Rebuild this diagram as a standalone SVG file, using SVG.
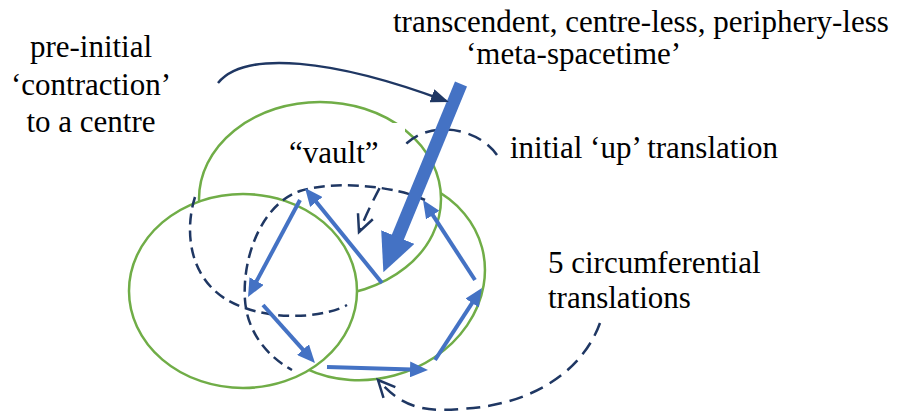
<svg xmlns="http://www.w3.org/2000/svg" width="908" height="414" viewBox="0 0 908 414">
<style>
.ell{fill:#fff;stroke:#70AD47;stroke-width:2.5}
.dash{fill:none;stroke:#1F3763;stroke-width:2.5;stroke-dasharray:11 6}
.conn{fill:none;stroke:#1F3763;stroke-width:2.5;stroke-dasharray:14 8}
.blue{fill:none;stroke:#4472C4;stroke-width:4}
text{font-size:31px;fill:#000}
</style>
<defs>
<marker id="blueHead" markerUnits="userSpaceOnUse" viewBox="0 0 18 16" refX="2" refY="8" markerWidth="18" markerHeight="16" orient="auto">
<path d="M0,0 L18,8 L0,16 z" fill="#4472C4"/>
</marker>
<marker id="bigHead" markerUnits="userSpaceOnUse" viewBox="0 0 38 36" refX="2" refY="18" markerWidth="38" markerHeight="36" orient="auto">
<path d="M0,0 L38,18 L0,36 z" fill="#4472C4"/>
</marker>
<marker id="navyHead" markerUnits="userSpaceOnUse" viewBox="0 0 18 14" refX="15" refY="7" markerWidth="18" markerHeight="14" orient="auto">
<path d="M0,0 L18,7 L0,14 z" fill="#1F3763"/>
</marker>
<marker id="openHead" markerUnits="userSpaceOnUse" viewBox="-2 -2 22 20" refX="17" refY="8" markerWidth="22" markerHeight="20" orient="auto" overflow="visible">
<path d="M0,0 L17,8 L0,16" fill="none" stroke="#1F3763" stroke-width="2.5" stroke-dasharray="none"/>
</marker>
</defs>

<g id="ellipse-right"><ellipse class="ell" cx="368" cy="278" rx="118" ry="101" transform="rotate(-15 368 278)"/></g>
<g id="ellipse-top"><ellipse class="ell" cx="320" cy="199" rx="121" ry="97"/></g>
<g id="ellipse-left"><ellipse class="ell" cx="243" cy="291" rx="114" ry="97"/></g>

<g id="dashed-orbits">
<path class="dash" d="M195,197 C183,235 190,290 245,308 C285,322 330,315 347,305"/>
<path class="dash" d="M425,200 C395,186 335,180 300,191 C260,205 242,260 245,300 C247,330 265,355 292,370"/>
</g>

<g id="connectors">
<path class="conn" d="M497,155 C478,128 432,120 407,143 C392,163 372,200 359,232" marker-end="url(#openHead)"/>
<path class="conn" d="M600,323 C585,365 540,405 460,409 C415,413 398,402 378,380" marker-end="url(#openHead)"/>
</g>

<g font-family="Liberation Serif, DejaVu Serif, serif">
<g id="vault">
<rect x="262" y="123" width="143" height="60" fill="#fff"/>
<text x="289" y="163">“vault”</text>
</g>
</g>

<g id="translations">
<line class="blue" x1="382" y1="283" x2="315.1" y2="200.4" marker-end="url(#blueHead)"/>
<line class="blue" x1="300" y1="200" x2="255.6" y2="282.9" marker-end="url(#blueHead)"/>
<line class="blue" x1="263" y1="305" x2="304.3" y2="351.1" marker-end="url(#blueHead)"/>
<line class="blue" x1="327" y1="367" x2="412" y2="369.5" marker-end="url(#blueHead)"/>
<line class="blue" x1="435" y1="360" x2="473.2" y2="301.4" marker-end="url(#blueHead)"/>
<line class="blue" x1="475" y1="280" x2="431.7" y2="213.4" marker-end="url(#blueHead)"/>
</g>

<g id="meta-arrow">
<line x1="461" y1="84" x2="397.1" y2="238.9" stroke="#4472C4" stroke-width="13" marker-end="url(#bigHead)"/>
</g>

<g id="contraction-arrow">
<path d="M218,83 C245,50 333,59 446,101" fill="none" stroke="#1F3763" stroke-width="2.5" marker-end="url(#navyHead)"/>
</g>

<g font-family="Liberation Serif, DejaVu Serif, serif">
<g id="label-contraction">
<text x="91" y="57" text-anchor="middle">pre-initial</text>
<text x="91" y="95" text-anchor="middle">‘contraction’</text>
<text x="91" y="132" text-anchor="middle">to a centre</text>
</g>
<g id="label-meta">
<text x="393" y="32">transcendent, centre-less, periphery-less</text>
<text x="466" y="64">‘meta-spacetime’</text>
</g>
<g id="label-up">
<text x="510" y="158">initial ‘up’ translation</text>
</g>
<g id="label-circ">
<text x="548" y="273">5 circumferential</text>
<text x="548" y="308">translations</text>
</g>
</g>
</svg>
